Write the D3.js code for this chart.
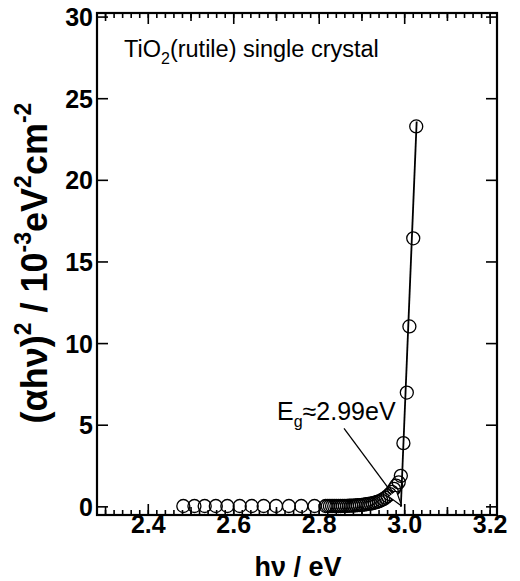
<!DOCTYPE html>
<html>
<head>
<meta charset="utf-8">
<script src="https://cdn.jsdelivr.net/npm/d3@7"></script>
<style>
  html, body { margin: 0; padding: 0; background: #fff; }
  svg { display: block; font-family: "Liberation Sans", Arial, sans-serif; }
</style>
</head>
<body>
<svg id="chart" width="520" height="581"></svg>
<script>
// photon energy (eV) and (alpha h nu)^2 (10^-3 eV^2 cm^-2)
const energy = [
  2.482, 2.508, 2.532, 2.558, 2.585, 2.614, 2.642, 2.670, 2.699, 2.729, 2.758, 2.789,
  2.815, 2.820, 2.825, 2.830, 2.835, 2.840, 2.845, 2.850, 2.855, 2.860, 2.865, 2.870,
  2.875, 2.880, 2.885, 2.890, 2.895, 2.900, 2.905, 2.910, 2.915, 2.920, 2.925, 2.930,
  2.935, 2.940, 2.945, 2.950, 2.955, 2.960, 2.965, 2.970, 2.975, 2.980, 2.986, 2.991,
  2.997, 3.005, 3.011, 3.020, 3.027
];
const absorb = [
  0.05, 0.05, 0.05, 0.05, 0.05, 0.05, 0.05, 0.05, 0.05, 0.05, 0.05, 0.05,
  0.05, 0.05, 0.05, 0.05, 0.05, 0.05, 0.05, 0.05, 0.06, 0.06, 0.06, 0.07,
  0.07, 0.08, 0.09, 0.10, 0.11, 0.12, 0.14, 0.16, 0.18, 0.20, 0.23, 0.26,
  0.30, 0.34, 0.40, 0.47, 0.56, 0.66, 0.78, 0.92, 1.10, 1.30, 1.50, 1.90,
  3.90, 7.00, 11.05, 16.45, 23.30
];
// linear fit of the absorption edge
const fitX = [2.991, 3.028];
const fitY = [0, 23.6];
const xTicks = [2.4, 2.6, 2.8, 3.0, 3.2];
const xMidTicks = [2.3, 2.5, 2.7, 2.9, 3.1];
const yTicks = [0, 5, 10, 15, 20, 25, 30];
const gapArrowX = [2.858, 2.993];
const gapArrowY = [4.8, 0.05];

(function () {
  const svg = d3.select("#chart");
  const mLeft = 97, mRight = 497, mTop = 13, mBottom = 515;

  const x = d3.scaleLinear().domain([2.28, 3.216]).range([mLeft, mRight]);
  const y = d3.scaleLinear().domain([-0.5, 30.25]).range([mBottom, mTop]);

  // minor ticks every 0.02 on top and bottom
  const minorTicks = d3.range(114, 161).map((k) => k / 50);

  // inward ticks, bottom and top
  function ticksX(values, len) {
    [[mBottom, -len], [mTop, len]].forEach(([y0, dy]) => {
      svg.append("g").selectAll("line").data(values).join("line")
        .attr("x1", (d) => x(d)).attr("x2", (d) => x(d))
        .attr("y1", y0).attr("y2", y0 + dy)
        .attr("stroke", "#000").attr("stroke-width", 1.6);
    });
  }
  ticksX(minorTicks, 5);
  ticksX(xMidTicks, 8);
  ticksX(xTicks, 11);

  [[mLeft, 11], [mRight, -11]].forEach(([x0, dx]) => {
    svg.append("g").selectAll("line").data(yTicks).join("line")
      .attr("x1", x0).attr("x2", x0 + dx)
      .attr("y1", (d) => y(d)).attr("y2", (d) => y(d))
      .attr("stroke", "#000").attr("stroke-width", 1.6);
  });

  svg.append("rect")
    .attr("x", mLeft).attr("y", mTop)
    .attr("width", mRight - mLeft).attr("height", mBottom - mTop)
    .attr("fill", "none").attr("stroke", "#000").attr("stroke-width", 2.2);

  // tick labels
  svg.append("g").selectAll("text").data(xTicks).join("text")
    .attr("x", (d) => x(d)).attr("y", 533)
    .attr("text-anchor", "middle")
    .attr("font-size", 25).attr("font-weight", "bold")
    .text((d) => d.toFixed(1));
  svg.append("g").selectAll("text").data(yTicks).join("text")
    .attr("x", mLeft - 4).attr("y", (d) => y(d) + 9)
    .attr("text-anchor", "end")
    .attr("font-size", 25).attr("font-weight", "bold")
    .text((d) => d);

  // axis titles
  svg.append("text")
    .attr("x", 298).attr("y", 576)
    .attr("text-anchor", "middle")
    .attr("font-size", 27).attr("font-weight", "bold")
    .text("hν / eV");

  const yl = svg.append("text")
    .attr("transform", "translate(47,263) rotate(-90)")
    .attr("text-anchor", "middle")
    .attr("font-size", 36).attr("font-weight", "bold");
  yl.append("tspan").text("(αhν)");
  yl.append("tspan").attr("dy", -16).attr("font-size", 23).text("2");
  yl.append("tspan").attr("dy", 16).text(" / 10");
  yl.append("tspan").attr("dy", -16).attr("font-size", 23).text("-3");
  yl.append("tspan").attr("dy", 16).text("eV");
  yl.append("tspan").attr("dy", -16).attr("font-size", 23).text("2");
  yl.append("tspan").attr("dy", 16).text("cm");
  yl.append("tspan").attr("dy", -16).attr("font-size", 23).text("-2");

  // sample caption
  const cap = svg.append("text")
    .attr("x", 124).attr("y", 57)
    .attr("font-size", 23.5);
  cap.append("tspan").text("TiO");
  cap.append("tspan").attr("dy", 7).attr("font-size", 16).text("2");
  cap.append("tspan").attr("dy", -7).text("(rutile) single crystal");

  // fit line
  svg.append("line")
    .attr("x1", x(fitX[0])).attr("y1", y(fitY[0]))
    .attr("x2", x(fitX[1])).attr("y2", y(fitY[1]))
    .attr("stroke", "#000").attr("stroke-width", 1.8);

  // data points
  svg.append("g").selectAll("circle").data(energy).join("circle")
    .attr("cx", (d) => x(d)).attr("cy", (d, i) => y(absorb[i]))
    .attr("r", 6.5)
    .attr("fill", "none").attr("stroke", "#000").attr("stroke-width", 1.3);

  // band gap annotation
  svg.append("defs").append("marker")
    .attr("id", "arrow").attr("viewBox", "0 0 16 10")
    .attr("refX", 16).attr("refY", 5)
    .attr("markerWidth", 16).attr("markerHeight", 10)
    .attr("markerUnits", "userSpaceOnUse").attr("orient", "auto")
    .append("path").attr("d", "M0,0 L16,5 L0,10 Z")
    .attr("fill", "#fff").attr("stroke", "#000").attr("stroke-width", 1.2);

  svg.append("line")
    .attr("x1", x(gapArrowX[0])).attr("y1", y(gapArrowY[0]))
    .attr("x2", x(gapArrowX[1])).attr("y2", y(gapArrowY[1]))
    .attr("stroke", "#000").attr("stroke-width", 1.3)
    .attr("marker-end", "url(#arrow)");

  const eg = svg.append("text")
    .attr("x", 277).attr("y", 420)
    .attr("font-size", 25);
  eg.append("tspan").text("E");
  eg.append("tspan").attr("dy", 7).attr("font-size", 16).text("g");
  eg.append("tspan").attr("dy", -7).text("≈2.99eV");
})();
</script>
</body>
</html>
